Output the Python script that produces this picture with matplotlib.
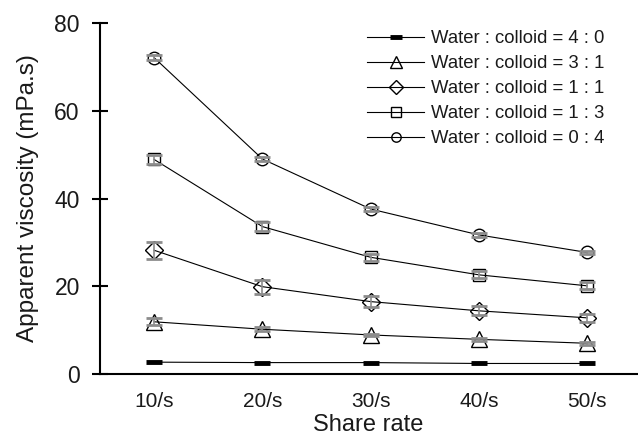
import matplotlib
matplotlib.use("Agg")
import matplotlib.pyplot as plt
import numpy as np

plt.rcParams['font.family'] = ['Liberation Sans', 'DejaVu Sans']

categories = ["10/s", "20/s", "30/s", "40/s", "50/s"]
labels = ["Water : colloid = 4 : 0", "Water : colloid = 3 : 1", "Water : colloid = 1 : 1",
          "Water : colloid = 1 : 3", "Water : colloid = 0 : 4"]
v_40 = [2.7, 2.6, 2.6, 2.4, 2.4]
v_31 = [11.9, 10.2, 8.9, 7.9, 7.0]
v_11 = [28.2, 19.9, 16.5, 14.4, 12.8]
v_13 = [48.9, 33.6, 26.6, 22.6, 20.1]
v_04 = [72.1, 49.0, 37.6, 31.7, 27.7]
e_40 = [0.0, 0.0, 0.0, 0.0, 0.0]
e_31 = [0.8, 0.5, 0.3, 0.3, 0.3]
e_11 = [1.9, 1.6, 1.2, 1.0, 0.9]
e_13 = [1.0, 1.0, 0.8, 0.8, 0.8]
e_04 = [0.5, 0.5, 0.4, 0.4, 0.4]

fig = plt.figure(figsize=(6.38, 4.37), dpi=100)
ax = fig.add_axes([100/638, 63/437, 537/638, 351/437])

x = np.arange(len(categories))
series = [
    (v_40, e_40, '_', 12, 3.5),
    (v_31, e_31, '^', 11, 1.0),
    (v_11, e_11, 'D', 9, 1.0),
    (v_13, e_13, 's', 9, 1.0),
    (v_04, e_04, 'o', 9, 1.0),
]
for (vals, errs, m, ms, mew), lab in zip(series, labels):
    if max(errs) > 0:
        ax.errorbar(x, vals, yerr=errs, fmt='none', ecolor='#8c8c8c', elinewidth=1.2,
                    capsize=5.5, capthick=2, zorder=3)
    ax.plot(x, vals, color='black', lw=0.8, marker=m, ms=ms, mew=mew,
            mfc='none', mec='black', label=lab, zorder=2)

ax.set_xlim(-0.5, 4.46)
ax.set_ylim(0, 80)
ax.set_yticks([0, 20, 40, 60, 80])
ax.set_xticks(x)
ax.set_xticklabels(categories)
ax.tick_params(axis='x', length=0, pad=13, labelsize=15, labelcolor='#1a1a1a')
ax.tick_params(axis='y', direction='inout', length=11, width=1.5, pad=9, labelsize=16.5,
               labelcolor='#1a1a1a')
for s in ['top', 'right']:
    ax.spines[s].set_visible(False)
for s in ['left', 'bottom']:
    ax.spines[s].set_linewidth(1.5)
ax.set_xlabel("Share rate", fontsize=17, labelpad=2, color='#1a1a1a')
ax.set_ylabel("Apparent viscosity (mPa.s)", fontsize=17.5, labelpad=11, color='#1a1a1a')

leg = ax.legend(loc='upper left', bbox_to_anchor=(0.497, 0.979), frameon=False, fontsize=13.3,
                borderpad=0, borderaxespad=0,
                handlelength=3.1, handletextpad=0.38, labelspacing=0.43, markerscale=0.75)
for t in leg.get_texts():
    t.set_color('#1a1a1a')

fig.savefig("out.png", dpi=100)
